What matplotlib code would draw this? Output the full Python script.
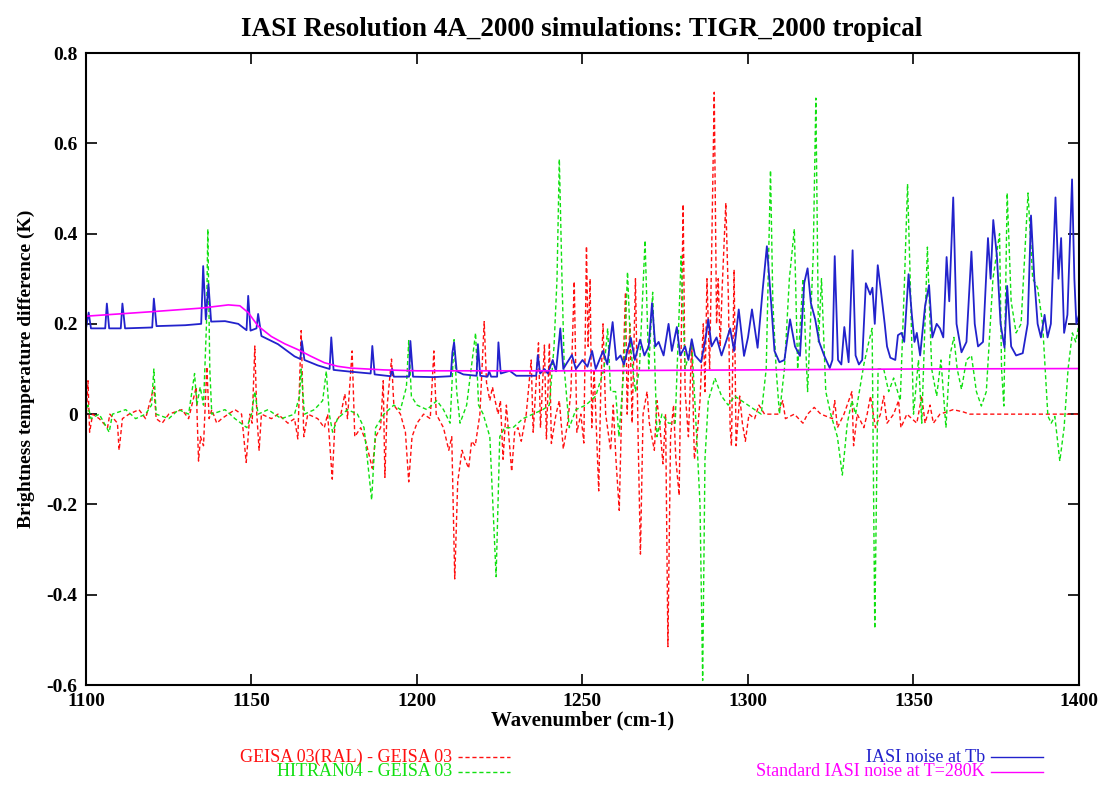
import matplotlib
matplotlib.use("Agg")
import matplotlib.pyplot as plt
from matplotlib.lines import Line2D

# GEISA 03(RAL) - GEISA 03
red_wn = [1100, 1100.6, 1101.1, 1102, 1104, 1106.5, 1107.2, 1109.5, 1110, 1111, 1113, 1116, 1118,
          1120.5, 1121.2, 1123, 1125, 1129, 1131, 1133.3, 1134, 1134.6, 1135.5, 1136.5, 1137.2, 1138,
          1139.5, 1141, 1143, 1145, 1147, 1148.4, 1149.5, 1150.2, 1151, 1151.6, 1152.3, 1153, 1156,
          1158, 1161, 1163, 1164, 1165, 1165.8, 1167, 1170, 1172, 1173, 1174.4, 1175.2, 1177, 1178.2,
          1179, 1180.4, 1181.2, 1183, 1184.5, 1186.5, 1187.5, 1189, 1189.8, 1190.3, 1191, 1192.3,
          1193, 1195, 1196.5, 1197.5, 1198.5, 1200, 1202, 1204, 1205.1, 1205.8, 1208, 1209.6, 1210.5,
          1211.4, 1212.3, 1213.6, 1214.5, 1215.6, 1216.5, 1217.6, 1219, 1220.3, 1221, 1222, 1222.8,
          1223.6, 1224.5, 1225.2, 1226, 1227, 1228.6, 1229.5, 1230.5, 1231.5, 1233, 1234.5, 1235.1,
          1236.7, 1237.3, 1238.5, 1239.1, 1240, 1240.6, 1242, 1243, 1244.2, 1245.5, 1246.5, 1247.5,
          1248.3, 1249.5, 1250.4, 1251.2, 1251.7, 1252.3, 1252.8, 1253.5, 1254.9, 1255.5, 1256.2,
          1257, 1258.5, 1259.3, 1260.1, 1261.1, 1261.8, 1263, 1263.5, 1264.3, 1265, 1266, 1266.8,
          1267.5, 1268.3, 1269.5, 1270.2, 1271.7, 1272.5, 1273.3, 1274.3, 1275.1, 1275.8, 1276.6,
          1277.5, 1278.2, 1279.2, 1280.4, 1281, 1282, 1283, 1283.8, 1284.5, 1285.5, 1286.5, 1287,
          1287.6, 1288.4, 1289, 1289.8, 1290.5, 1291, 1291.6, 1292.2, 1293.3, 1294.1, 1294.6, 1295,
          1295.8, 1296.4, 1297.5, 1298.3, 1299.2, 1300.3, 1302, 1303.3, 1305, 1309, 1310.5, 1311.3,
          1314, 1316.6, 1318, 1320, 1322, 1325.5, 1326.2, 1327, 1329, 1331.4, 1331.9, 1333, 1335,
          1336, 1337, 1338.5, 1340, 1341, 1342, 1344, 1345.5, 1346.2, 1348, 1351, 1352.5, 1353.5,
          1355, 1356, 1358, 1362, 1365, 1367, 1400]
red_bt = [-0.02, 0.074, -0.04, 0.0, -0.01, -0.03, 0.0, -0.02, -0.08, -0.01, 0.0, 0.01, -0.01,
          0.06, -0.01, -0.02, 0.0, 0.01, -0.01, 0.06, -0.104, -0.05, -0.07, 0.105, -0.01, 0.01,
          -0.02, -0.01, 0.0, 0.01, 0.0, -0.107, 0.0, -0.02, 0.151, 0.0, -0.08, 0.0, -0.01,
          0.0, -0.02, -0.01, -0.055, 0.185, -0.05, 0.0, -0.01, -0.03, 0.0, -0.144, -0.02, 0.0, 0.045,
          -0.01, 0.14, -0.05, -0.03, -0.06, -0.12, -0.05, -0.03, 0.074, -0.14, 0.02, 0.122,
          0.02, 0.0, -0.04, -0.15, -0.05, -0.02, 0.0, -0.01, 0.14, 0.0, -0.03, -0.08, -0.05,
          -0.365, -0.15, -0.08, -0.1, -0.12, -0.06, -0.07, 0.0, 0.205, 0.07, 0.03, 0.06,
          0.03, 0.0, 0.03, -0.1, 0.02, -0.127, -0.04, -0.03, -0.06, 0.0, 0.12, -0.04,
          0.158, -0.03, 0.153, -0.055, 0.158, -0.065, 0.0, 0.03, -0.077, -0.02, 0.05, 0.294,
          -0.04, 0.0, -0.064, 0.372, 0.15, 0.3, -0.03, 0.1, -0.17, 0.05, 0.2,
          0.0, -0.08, 0.02, -0.1, -0.213, 0.0, 0.27, 0.0, 0.2, -0.02, 0.3, -0.05,
          -0.31, 0.0, 0.05, -0.02, -0.08, 0.03, -0.02, -0.11, 0.0, -0.515, -0.05,
          0.02, -0.1, -0.18, 0.465, 0.05, -0.05, 0.16, -0.1, -0.06, 0.03, 0.2, 0.05,
          0.3, 0.1, 0.35, 0.713, 0.2, 0.3, 0.15, 0.28, 0.468, 0.25, -0.03, -0.07,
          0.32, -0.07, 0.04, -0.02, -0.06, 0.0, -0.01, 0.02, 0.0, 0.0, 0.03, -0.01,
          0.0, -0.02, 0.0, 0.015, 0.0, -0.01, 0.03, -0.03, 0.0, 0.05, -0.07, 0.0, -0.03,
          0.0, 0.04, -0.03, 0.0, 0.04, -0.02, 0.0, 0.03, -0.03, 0.0, -0.02, 0.04, -0.02,
          0.02, -0.02, 0.0, 0.01, 0.005, 0.0, 0.0]

# HITRAN04 - GEISA 03
green_wn = [1100, 1100.6, 1101.5, 1104, 1107, 1108, 1112, 1115, 1118, 1119.8, 1120.5, 1121.2, 1125,
            1128, 1131, 1132.8, 1133.5, 1134.5, 1135.5, 1136.4, 1136.8, 1137.4, 1138, 1142, 1145,
            1148.6, 1150, 1151, 1152, 1155, 1159, 1163, 1164.5, 1165, 1166, 1169, 1171.5, 1172.6,
            1173.5, 1174.5, 1176, 1179, 1182, 1184, 1186.3, 1187.5, 1190, 1193, 1195, 1196.8, 1197.5,
            1198.3, 1200, 1203, 1206, 1208, 1210, 1211.2, 1212, 1213, 1215, 1217.7, 1218.6, 1220,
            1222, 1223.9, 1225, 1226.5, 1229, 1232, 1235, 1238, 1240, 1241.4, 1242.3, 1243, 1243.8,
            1244.5, 1246, 1248, 1251, 1254, 1256.5, 1257.6, 1258.5, 1260, 1261, 1262.5, 1263.6,
            1264.5, 1266, 1267.2, 1268.9, 1270, 1271.2, 1272.5, 1274, 1276, 1278, 1279.8, 1281,
            1283, 1284.5, 1285.5, 1286.3, 1287, 1288, 1290, 1292, 1294, 1296, 1298, 1300, 1302,
            1304, 1305.5, 1306.8, 1307.5, 1308.5, 1309.5, 1311, 1312.5, 1314, 1315, 1316.6, 1318,
            1319.7, 1320.5, 1321.3, 1322.2, 1323.5, 1325, 1327, 1328.5, 1330, 1331.4, 1332.5, 1335,
            1336.5, 1337.5, 1338.3, 1339.3, 1341, 1342.5, 1344, 1346, 1347.3, 1348.2, 1349, 1350,
            1351.5, 1352.5, 1354.2, 1355.5, 1357, 1358.3, 1359.8, 1361, 1362.2, 1363.2, 1364.5, 1366,
            1367.5, 1369, 1370.5, 1372, 1374, 1376, 1376.6, 1377.3, 1378.3, 1379.5, 1381, 1382.5,
            1384.6, 1386, 1387.5, 1389, 1390.6, 1391.6, 1392.7, 1394.2, 1395.5, 1396.7, 1398, 1399,
            1400]
green_bt = [0.0, 0.02, -0.01, 0.0, -0.04, 0.0, 0.01, -0.01, 0.0, 0.02, 0.1, 0.0, -0.01,
            0.01, 0.0, 0.09, 0.02, 0.06, 0.02, 0.2, 0.41, 0.1, 0.0, 0.01, -0.01,
            -0.03, 0.0, 0.05, 0.0, 0.01, -0.01, 0.0, 0.04, 0.1, 0.0, 0.01, 0.03, 0.095,
            0.0, -0.04, -0.01, 0.01, 0.0, -0.03, -0.19, -0.03, 0.0, 0.02, 0.01, 0.06, 0.163,
            0.04, 0.02, 0.01, 0.03, 0.01, -0.02, 0.165, 0.05, -0.02, 0.02, 0.18, 0.02, 0.0,
            -0.05, -0.36, -0.05, -0.03, -0.03, -0.01, 0.0, 0.01, 0.02, 0.15, 0.3, 0.565, 0.3,
            0.1, -0.03, 0.01, 0.02, 0.04, 0.1, 0.19, 0.05, 0.05, -0.05, 0.1, 0.315,
            0.15, 0.05, 0.1, 0.385, 0.1, 0.27, -0.05, 0.0, -0.02, -0.02, 0.35, 0.1,
            0.16, -0.05, -0.2, -0.59, -0.1, 0.03, 0.08, 0.04, 0.02, 0.04, 0.03, 0.02, 0.01,
            0.0, 0.1, 0.54, 0.25, 0.1, 0.0, 0.1, 0.3, 0.41, 0.1, 0.3, 0.05,
            0.35, 0.70, 0.16, 0.3, 0.05, 0.0, -0.05, -0.135, -0.02, 0.03, 0.0, 0.11,
            0.16, 0.19, -0.475, 0.1, 0.1, 0.05, 0.08, 0.03, 0.3, 0.51, 0.3, 0.0,
            0.12, -0.02, 0.37, 0.1, 0.04, 0.12, -0.03, 0.13, 0.17, 0.1, 0.055, 0.12,
            0.13, 0.05, 0.018, 0.05, 0.3, 0.40, 0.1, 0.018, 0.49, 0.25, 0.18, 0.2,
            0.49, 0.3, 0.28, 0.2, -0.004, -0.02, -0.005, -0.104, -0.03, 0.1, 0.18, 0.16,
            0.2]

# IASI noise at Tb
blue_wn = [1100, 1100.8, 1101.5, 1105.8, 1106.3, 1107, 1110.5, 1111, 1111.8, 1120, 1120.5, 1121.3,
           1130, 1134.8, 1135.4, 1136.2, 1137, 1137.8, 1142, 1146, 1148.5, 1149, 1149.7, 1151.5,
           1152, 1153, 1158, 1163, 1164.8, 1165.2, 1166, 1170, 1173.6, 1174.1, 1174.8, 1180, 1186,
           1186.5, 1187.2, 1192, 1192.5, 1193, 1197.6, 1198, 1198.8, 1205, 1210.2, 1210.7, 1211.2,
           1212, 1214, 1218, 1218.4, 1219.1, 1221.3, 1221.8, 1222.4, 1224.2, 1224.6, 1225.3, 1228,
           1230, 1236, 1236.5, 1237.2, 1238.5, 1239.5, 1241, 1242, 1243.3, 1244.2, 1245, 1246.8,
           1248, 1250, 1251.5, 1252.9, 1254, 1256.2, 1257.5, 1259.1, 1260.2, 1261.5, 1262.5, 1264.6,
           1265.8, 1267.4, 1268.7, 1270, 1271, 1272, 1273, 1274.5, 1276, 1277, 1278.5, 1279.5, 1281,
           1282, 1283, 1284, 1285.8, 1287, 1288, 1289, 1290.5, 1292, 1293.6, 1294.6, 1295.8, 1297.2,
           1298.8, 1300, 1301.2, 1302.9, 1304.4, 1305.7, 1307, 1308, 1309.5, 1311, 1312.7, 1314.2,
           1315.7, 1317, 1318, 1319, 1320.3, 1321.5, 1323, 1324.7, 1325.5, 1326.2, 1327.2, 1328.2,
           1329.1, 1330.4, 1331.6, 1332.5, 1333.5, 1334.5, 1335.6, 1336.9, 1337.6, 1338.3, 1339.2,
           1340.2, 1341.3, 1342, 1343, 1344.5, 1345.3, 1346.4, 1347.2, 1348.5, 1349.5, 1350.3, 1351,
           1352, 1353.5, 1354.7, 1355.7, 1357, 1358, 1359, 1360, 1360.8, 1362, 1363, 1364.5, 1366,
           1367.5, 1368.5, 1369.5, 1371, 1372.5, 1373.3, 1374.1, 1375.2, 1376.3, 1377.5, 1378.3,
           1379.5, 1381, 1383, 1384.5, 1385.5, 1386.5, 1387.5, 1388.5, 1389.6, 1390.5, 1391.5,
           1392.9, 1393.8, 1394.6, 1395.5, 1396.5, 1397.9, 1398.6, 1399.2, 1400]
blue_bt = [0.19, 0.225, 0.19, 0.19, 0.245, 0.19, 0.19, 0.245, 0.19, 0.192, 0.256, 0.195,
           0.197, 0.2, 0.328, 0.21, 0.288, 0.205, 0.206, 0.2, 0.186, 0.262, 0.185, 0.19,
           0.222, 0.173, 0.155, 0.128, 0.122, 0.162, 0.12, 0.108, 0.1, 0.17, 0.098, 0.094, 0.09,
           0.151, 0.088, 0.084, 0.10, 0.083, 0.083, 0.162, 0.083, 0.082, 0.084, 0.137, 0.159,
           0.095, 0.088, 0.085, 0.155, 0.085, 0.083, 0.095, 0.083, 0.083, 0.159, 0.09, 0.096,
           0.085, 0.085, 0.131, 0.09, 0.1, 0.09, 0.12, 0.095, 0.19, 0.1, 0.11, 0.131,
           0.1, 0.12, 0.105, 0.14, 0.1, 0.14, 0.11, 0.204, 0.12, 0.13, 0.11, 0.169,
           0.12, 0.165, 0.13, 0.15, 0.246, 0.15, 0.16, 0.13, 0.2, 0.14, 0.193, 0.13, 0.15,
           0.12, 0.166, 0.13, 0.115, 0.16, 0.21, 0.15, 0.17, 0.13, 0.166, 0.19, 0.14, 0.232,
           0.129, 0.17, 0.232, 0.147, 0.273, 0.372, 0.246, 0.14, 0.115, 0.12, 0.21, 0.15,
           0.129, 0.291, 0.323, 0.246, 0.21, 0.16, 0.13, 0.102, 0.12, 0.35, 0.12, 0.11,
           0.193, 0.115, 0.363, 0.13, 0.11, 0.12, 0.29, 0.265, 0.28, 0.2, 0.33,
           0.27, 0.2, 0.15, 0.125, 0.12, 0.175, 0.18, 0.16, 0.31, 0.22, 0.16, 0.18,
           0.13, 0.24, 0.286, 0.17, 0.2, 0.19, 0.17, 0.348, 0.25, 0.48, 0.2, 0.137, 0.16,
           0.36, 0.2, 0.15, 0.16, 0.39, 0.3, 0.43, 0.35, 0.2, 0.147, 0.284,
           0.15, 0.13, 0.135, 0.2, 0.44, 0.3, 0.2, 0.17, 0.22, 0.17, 0.2,
           0.48, 0.3, 0.39, 0.18, 0.22, 0.52, 0.3, 0.2, 0.22]

# Standard IASI noise at T=280K
mag_wn = [1100, 1120, 1135, 1143, 1146.5, 1149, 1152, 1156, 1160, 1164, 1168, 1172, 1176, 1180,
          1190, 1200, 1250, 1300, 1350, 1400]
mag_bt = [0.217, 0.227, 0.235, 0.242, 0.24, 0.225, 0.195, 0.172, 0.156, 0.143, 0.128, 0.114, 0.106,
          0.102, 0.098, 0.096, 0.096, 0.098, 0.1, 0.101]

x_ticks = [1100, 1150, 1200, 1250, 1300, 1350, 1400]
y_ticks = [-0.6, -0.4, -0.2, 0, 0.2, 0.4, 0.6, 0.8]
y_ticklabels = ["-0.6", "-0.4", "-0.2", "0", "0.2", "0.4", "0.6", "0.8"]

RED = "#ff1010"
GREEN = "#10e010"
BLUE = "#2222cc"
MAGENTA = "#ff00ff"
SERIF = "Liberation Serif"
dash = (0, (3, 2))

fig = plt.figure(figsize=(11.13, 7.87), dpi=100)
ax = fig.add_axes([86 / 1113, 1 - 685 / 787, (1079 - 86) / 1113, (685 - 53) / 787])

ax.plot(red_wn, red_bt, color=RED, lw=1.0, linestyle=dash)
ax.plot(green_wn, green_bt, color=GREEN, lw=1.0, linestyle=dash)
ax.plot(blue_wn, blue_bt, color=BLUE, lw=1.3)
ax.plot(mag_wn, mag_bt, color=MAGENTA, lw=1.2)

ax.set_xlim(1100, 1400)
ax.set_ylim(-0.6, 0.8)
ax.set_xticks(x_ticks)
ax.set_yticks(y_ticks)
ax.set_yticklabels(y_ticklabels)
ax.tick_params(direction="in", length=8, width=1.2, top=True, right=True, pad=6)
for lab in ax.get_xticklabels() + ax.get_yticklabels():
    lab.set_fontfamily(SERIF)
    lab.set_fontweight("bold")
    lab.set_fontsize(14)
for sp in ax.spines.values():
    sp.set_linewidth(1.5)

ax.set_xlabel("Wavenumber (cm-1)", fontfamily=SERIF, fontweight="bold", fontsize=15, labelpad=0)
ax.set_ylabel("Brightness temperature difference (K)", fontfamily=SERIF, fontweight="bold",
              fontsize=14, labelpad=8)

fig.text(0.523, 1 - 30 / 787, "IASI Resolution 4A_2000 simulations: TIGR_2000 tropical",
         ha="center", va="center", fontfamily=SERIF, fontweight="bold", fontsize=19.5)

# legend below the plot, gnuplot style
rows = [
    (452 / 1113, 1 - 757 / 787, "GEISA 03(RAL) - GEISA 03", RED, dash),
    (452 / 1113, 1 - 772 / 787, "HITRAN04 - GEISA 03", GREEN, dash),
    (985 / 1113, 1 - 757 / 787, "IASI noise at Tb", BLUE, "-"),
    (985 / 1113, 1 - 772 / 787, "Standard IASI noise at T=280K", MAGENTA, "-"),
]
for x, y, txt, col, ls in rows:
    fig.text(x, y, txt, ha="right", va="center", color=col, fontfamily=SERIF, fontsize=13)
    fig.add_artist(Line2D([x + 6 / 1113, x + 58 / 1113], [y, y], color=col, lw=1.0,
                          linestyle=ls, transform=fig.transFigure))

fig.savefig("out.png", dpi=100)
